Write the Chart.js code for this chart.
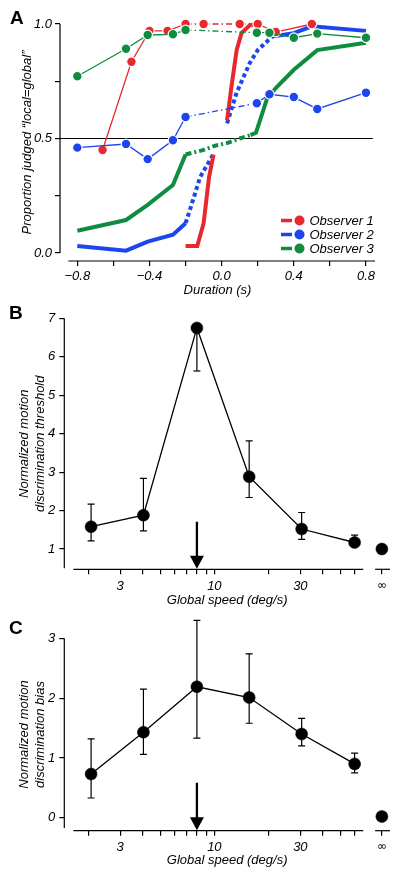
<!DOCTYPE html>
<html><head><meta charset="utf-8">
<script src="https://cdn.jsdelivr.net/npm/chart.js@4.4.1/dist/chart.umd.min.js"></script>
<style>
html,body{margin:0;padding:0;background:#fff;}
body{width:400px;height:876px;position:relative;overflow:hidden;font-family:'Liberation Sans',Arial,sans-serif;}
canvas{position:absolute;left:0;}
.lbl{position:absolute;font-weight:bold;font-size:19px;line-height:1;z-index:2;color:#000;}
</style></head><body>
<canvas id="cA" width="400" height="300" style="top:0"></canvas>
<canvas id="cB" width="400" height="310" style="top:300px"></canvas>
<canvas id="cC" width="400" height="266" style="top:610px"></canvas>
<div class="lbl" style="left:10px;top:7.5px">A</div>
<div class="lbl" style="left:9px;top:302.5px">B</div>
<div class="lbl" style="left:9px;top:617.5px">C</div>
<script>
// ---------- Panel A data ----------
const durationTicks = [-0.8,-0.6,-0.4,-0.2,0,0.2,0.4,0.6,0.8];
const durationTickLabels = ['\u22120.8','','\u22120.4','','0.0','','0.4','','0.8'];
const proportionTicks = [0,0.25,0.5,0.75,1];
const proportionTickLabels = ['0.0','','0.5','','1.0'];
const observerNames = ['Observer 1','Observer 2','Observer 3'];

const durations1 = [-0.66,-0.5,-0.4,-0.3,-0.2,-0.1,0.1,0.2,0.3,0.5];
const observer1 = [0.45,0.835,0.97,0.97,1.0,1.0,1.0,1.0,0.965,1.0];
const durations23 = [-0.8,-0.53,-0.41,-0.27,-0.2,0.195,0.265,0.4,0.53,0.8];
const observer2 = [0.46,0.476,0.41,0.492,0.594,0.654,0.693,0.681,0.629,0.70];
const observer3 = [0.772,0.892,0.952,0.955,0.974,0.962,0.962,0.94,0.958,0.94];

const fit1LeftX = [-0.2,-0.135,-0.1,-0.07,-0.045];
const fit1LeftY = [0.03,0.03,0.13,0.33,0.43];
const fit1RightX = [0.03,0.055,0.083,0.11,0.157,0.2];
const fit1RightY = [0.58,0.73,0.886,0.96,0.995,1.0];

const fit2LeftX = [-0.8,-0.53,-0.41,-0.27,-0.2];
const fit2LeftY = [0.03,0.01,0.05,0.08,0.13];
const fit2MidLeftX = [-0.2,-0.175,-0.12,-0.04];
const fit2MidLeftY = [0.13,0.19,0.33,0.44];
const fit2MidRightX = [0.03,0.083,0.156,0.2,0.28];
const fit2MidRightY = [0.566,0.70,0.83,0.886,0.945];
const fit2RightX = [0.28,0.4,0.5,0.8];
const fit2RightY = [0.945,0.96,0.99,0.97];

const fit3LeftX = [-0.8,-0.53,-0.41,-0.27,-0.2];
const fit3LeftY = [0.097,0.144,0.21,0.297,0.43];
const fit3MidX = [-0.2,-0.1,-0.03,0.03,0.1,0.16];
const fit3MidY = [0.43,0.45,0.47,0.48,0.5,0.515];
const fit3RightX = [0.16,0.19,0.25,0.3,0.4,0.53,0.8];
const fit3RightY = [0.515,0.525,0.67,0.72,0.80,0.886,0.918];

const chanceLevel = 0.5;

// ---------- Panels B / C data ----------
const speeds = [2.07,4.04,8.0,15.6,30.5,60];
const speedTicks = [2,3,4,5,6,7,8,9,10,20,30,40,50,60];
const speedTickLabels = {3:'3',10:'10',30:'30'};
const INF_POS = 85; // where the "infinite speed" column is placed on the log axis
const threshold = [1.58,1.88,6.75,2.88,1.52,1.17];
const thresholdLow = [1.21,1.47,5.63,2.34,1.25,1.08];
const thresholdHigh = [2.17,2.84,6.75,3.81,1.95,1.36];
const thresholdInf = 1.0;
const bias = [0.73,1.43,2.19,2.01,1.40,0.90];
const biasLow = [0.33,1.06,1.33,1.58,1.20,0.75];
const biasHigh = [1.32,2.15,3.30,2.74,1.66,1.08];
const biasInf = 0.02;
const arrowSpeed = 8;

// ---------- styling ----------
const RED = '#e8282d', BLUE = '#1c45ef', GREEN = '#0f8c40';
const FONT = "'Liberation Sans', Arial, Helvetica, sans-serif";
Chart.defaults.font.family = FONT;
Chart.defaults.font.size = 13;
Chart.defaults.font.style = 'italic';
Chart.defaults.color = '#000';

const pts = (xs, ys) => xs.map((x, i) => ({x, y: ys[i]}));
const centerDash = ctx => (ctx.p0.parsed.x >= -0.21 && ctx.p1.parsed.x <= 0.21) ? [6,3,1.5,3] : undefined;

// ---------- plugins ----------
const axisLinesPlugin = {
  id: 'axisLines',
  beforeDatasetsDraw(chart, args, o) {
    const {ctx, chartArea: a, scales: {x, y}} = chart;
    ctx.save();
    ctx.strokeStyle = '#000'; ctx.lineWidth = 1.2;
    ctx.beginPath();
    ctx.moveTo(a.left, y.getPixelForValue(o.yFrom));
    ctx.lineTo(a.left, y.getPixelForValue(o.yTo));
    ctx.stroke();
    for (const [s, e] of o.xSegments) {
      ctx.beginPath();
      ctx.moveTo(x.getPixelForValue(s), a.bottom);
      ctx.lineTo(x.getPixelForValue(e), a.bottom);
      ctx.stroke();
    }
    ctx.restore();
  }
};
const errorBarsPlugin = {
  id: 'errorBars',
  beforeDatasetsDraw(chart, args, o) {
    if (!o || !o.xs) return;
    const {ctx, scales: {x, y}} = chart;
    ctx.save(); ctx.strokeStyle = '#000'; ctx.lineWidth = 1.2;
    o.xs.forEach((v, i) => {
      const px = x.getPixelForValue(v);
      const lo = y.getPixelForValue(o.low[i]), hi = y.getPixelForValue(o.high[i]);
      ctx.beginPath(); ctx.moveTo(px, lo); ctx.lineTo(px, hi); ctx.stroke();
      ctx.beginPath();
      if (o.low[i] < o.mean[i]) { ctx.moveTo(px - 3.5, lo); ctx.lineTo(px + 3.5, lo); }
      if (o.high[i] > o.mean[i]) { ctx.moveTo(px - 3.5, hi); ctx.lineTo(px + 3.5, hi); }
      ctx.stroke();
    });
    ctx.restore();
  }
};
const arrowPlugin = {
  id: 'arrow',
  afterDatasetsDraw(chart, args, o) {
    if (!o || o.x === undefined) return;
    const {ctx, chartArea: a, scales: {x, y}} = chart;
    const px = x.getPixelForValue(o.x), top = y.getPixelForValue(o.from), tip = a.bottom - 0.5;
    ctx.save();
    ctx.strokeStyle = '#000'; ctx.fillStyle = '#000'; ctx.lineWidth = 2.3;
    ctx.beginPath(); ctx.moveTo(px, top); ctx.lineTo(px, tip - 10); ctx.stroke();
    ctx.beginPath(); ctx.moveTo(px - 7, tip - 13); ctx.lineTo(px + 7, tip - 13); ctx.lineTo(px, tip); ctx.closePath(); ctx.fill();
    ctx.restore();
  }
};
const obsLegendPlugin = {
  id: 'obsLegend',
  afterDraw(chart, args, o) {
    if (!o || !o.items) return;
    const ctx = chart.ctx;
    ctx.save();
    ctx.font = 'italic 13px ' + FONT;
    ctx.textBaseline = 'middle'; ctx.textAlign = 'left';
    o.items.forEach((it, i) => {
      const yy = o.y + i * o.dy;
      ctx.strokeStyle = it.color; ctx.lineWidth = 3.5;
      ctx.beginPath(); ctx.moveTo(o.x, yy); ctx.lineTo(o.x + 11, yy); ctx.stroke();
      ctx.fillStyle = it.color;
      ctx.beginPath(); ctx.arc(o.x + 18.5, yy, 5, 0, Math.PI * 2); ctx.fill();
      ctx.fillStyle = '#000';
      ctx.fillText(it.label, o.x + 28.5, yy + 0.5);
    });
    ctx.restore();
  }
};

const gridOpts = {drawOnChartArea: false, drawTicks: true, tickLength: 5, color: '#000', lineWidth: 1.2};
const baseOpts = {responsive: false, animation: false, devicePixelRatio: 1, events: []};

// ---------- Panel A ----------
function dotSet(xs, ys, color, order) {
  return {data: pts(xs, ys), borderColor: color, backgroundColor: color, borderWidth: 1.3,
    pointRadius: 4.8, pointBackgroundColor: color, pointBorderColor: '#fff', pointBorderWidth: 1.2,
    segment: {borderDash: centerDash}, order, clip: false, tension: 0};
}
function fitSet(xs, ys, color, dash) {
  return {data: pts(xs, ys), borderColor: color, borderWidth: 4, pointRadius: 0,
    borderDash: dash || [], order: 5, clip: false, tension: 0, borderCapStyle: 'butt'};
}
new Chart(document.getElementById('cA'), {
  type: 'line',
  data: {datasets: [
    dotSet(durations23, observer3, GREEN, 0),
    dotSet(durations23, observer2, BLUE, 1),
    dotSet(durations1, observer1, RED, 2),
    fitSet(fit1LeftX, fit1LeftY, RED),
    fitSet(fit1RightX, fit1RightY, RED),
    fitSet(fit2LeftX, fit2LeftY, BLUE),
    fitSet(fit2MidLeftX, fit2MidLeftY, BLUE, [4,3]),
    fitSet(fit2MidRightX, fit2MidRightY, BLUE, [4,3]),
    fitSet(fit2RightX, fit2RightY, BLUE),
    fitSet(fit3LeftX, fit3LeftY, GREEN),
    fitSet(fit3MidX, fit3MidY, GREEN, [6,3,2,3]),
    fitSet(fit3RightX, fit3RightY, GREEN),
    {data: [{x: -0.896, y: chanceLevel}, {x: 0.838, y: chanceLevel}], borderColor: '#000', borderWidth: 1.2, pointRadius: 0, order: 9}
  ]},
  options: Object.assign({}, baseOpts, {
    layout: {padding: {left: 0, right: 25, top: 24, bottom: 0}},
    plugins: {legend: {display: false}, tooltip: {enabled: false},
      axisLines: {yFrom: 1, yTo: 0, xSegments: [[-0.85, 0.85]]},
      obsLegend: {x: 281, y: 220.5, dy: 14, items: [
        {label: observerNames[0], color: RED}, {label: observerNames[1], color: BLUE}, {label: observerNames[2], color: GREEN}]}
    },
    scales: {
      x: {type: 'linear', min: -0.896, max: 0.85, bounds: 'data',
        afterBuildTicks: s => { s.ticks = durationTicks.map(v => ({value: v})); },
        afterFit: s => { s.height = 39; },
        border: {display: false}, grid: gridOpts,
        ticks: {padding: 3, autoSkip: false, maxRotation: 0, minRotation: 0, callback: (v, i) => durationTickLabels[i]},
        title: {display: true, text: 'Duration (s)', padding: {top: 0, bottom: 1.5}}
      },
      y: {type: 'linear', min: -0.035, max: 1.0, bounds: 'data',
        afterBuildTicks: s => { s.ticks = proportionTicks.map(v => ({value: v})); },
        afterFit: s => { s.width = 60; },
        border: {display: false}, grid: gridOpts,
        ticks: {padding: 3, autoSkip: false, callback: (v, i) => proportionTickLabels[i]},
        title: {display: true, text: 'Proportion judged \u201Clocal=global\u201D', padding: {top: 19.2, bottom: 0}}
      }
    }
  }),
  plugins: [axisLinesPlugin, obsLegendPlugin]
});

// ---------- Panels B and C ----------
const tickFont = ctx => (ctx.tick && ctx.tick.value === INF_POS)
  ? {family: "'DejaVu Sans', sans-serif", size: 12, style: 'normal'}
  : {family: FONT, size: 13, style: 'italic'};
function speedChart(id, values, low, high, infValue, yMin, yMax, yTicks, yAxisEnd, titleLines, padTop, xHeight, tickPad, titleBottom, arrowFrom) {
  return new Chart(document.getElementById(id), {
    type: 'line',
    data: {datasets: [
      {data: pts(speeds, values), borderColor: '#000', borderWidth: 1.3, pointRadius: 6,
        pointBackgroundColor: '#000', pointBorderColor: '#000', pointBorderWidth: 0.5, clip: false, tension: 0},
      {data: [{x: INF_POS, y: infValue}], showLine: false, pointRadius: 6,
        pointBackgroundColor: '#000', pointBorderColor: '#000', pointBorderWidth: 0.5, clip: false}
    ]},
    options: Object.assign({}, baseOpts, {
      layout: {padding: {left: 0, right: 10, top: padTop, bottom: 0}},
      plugins: {legend: {display: false}, tooltip: {enabled: false},
        axisLines: {yFrom: yMax, yTo: yAxisEnd, xSegments: [[1.65, 67], [78, 94.3]]},
        errorBars: {xs: speeds, mean: values, low, high},
        arrow: {x: arrowSpeed, from: arrowFrom}
      },
      scales: {
        x: {type: 'logarithmic', min: 1.47, max: 94.3, bounds: 'data',
          afterBuildTicks: s => { s.ticks = speedTicks.concat([INF_POS]).map(v => ({value: v})); },
          afterFit: s => { s.height = xHeight; },
          border: {display: false}, grid: gridOpts,
          ticks: {padding: tickPad, autoSkip: false, maxRotation: 0, minRotation: 0, font: tickFont,
            callback: v => v === INF_POS ? '\u221E' : (speedTickLabels[v] || '')},
          title: {display: true, text: 'Global speed (deg/s)', padding: {top: 0, bottom: titleBottom}}
        },
        y: {type: 'linear', min: yMin, max: yMax, bounds: 'data',
          afterBuildTicks: s => { s.ticks = yTicks.map(v => ({value: v})); },
          afterFit: s => { s.width = 64.3; },
          border: {display: false}, grid: gridOpts,
          ticks: {padding: 4, autoSkip: false, callback: v => String(v)},
          title: {display: true, text: titleLines, padding: {top: 16, bottom: 0},
            font: {size: 13, style: 'italic', lineHeight: 1.231}}
        }
      }
    }),
    plugins: [axisLinesPlugin, errorBarsPlugin, arrowPlugin]
  });
}
speedChart('cB', threshold, thresholdLow, thresholdHigh, thresholdInf, 0.473, 7, [1,2,3,4,5,6,7], 0.5,
  ['Normalized motion', 'discrimination threshold'], 18.3, 40.7, 4, 2.2, 1.71);
speedChart('cC', bias, biasLow, biasHigh, biasInf, -0.217, 3, [0,1,2,3], -0.17,
  ['Normalized motion', 'discrimination bias'], 28.3, 45.3, 4.3, 8.2, 0.585);
</script>
</body></html>
